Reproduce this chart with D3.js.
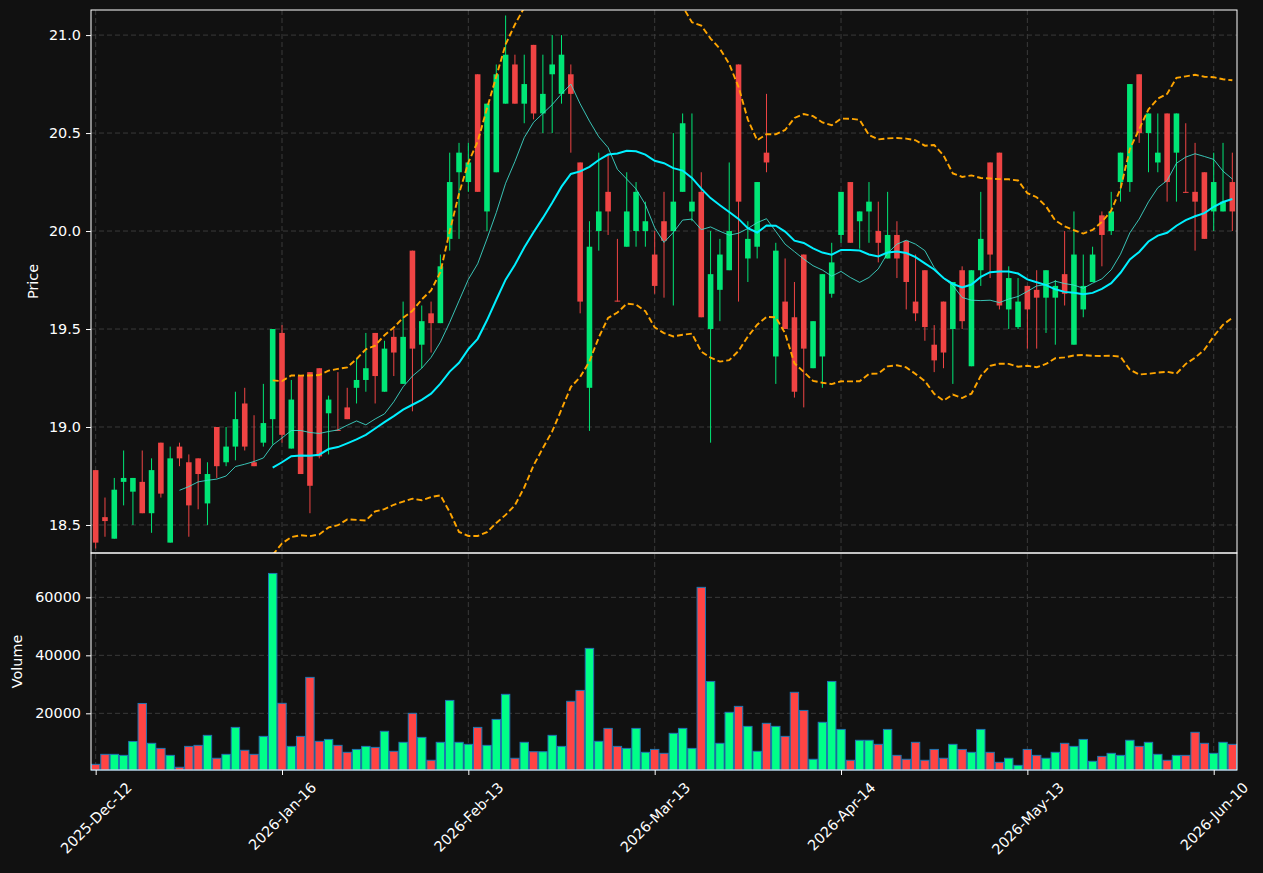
<!DOCTYPE html>
<html>
<head>
<meta charset="utf-8">
<script src="https://cdn.jsdelivr.net/npm/d3@7"></script>
<style>
body { margin: 0; background: #111111; }
svg { display: block; font-family: "DejaVu Sans", sans-serif; }
</style>
</head>
<body>
<script>
// daily bars
var opens = [18.78,18.54,18.43,18.72,18.67,18.72,18.56,18.92,18.41,18.90,
  18.82,18.84,18.61,19.00,18.82,18.90,19.12,18.82,18.92,19.04,
  19.48,18.89,19.26,19.28,19.30,19.07,18.985,19.10,19.20,19.24,
  19.48,19.18,19.46,19.22,19.90,19.42,19.58,19.53,19.96,20.30,
  20.25,20.80,20.10,20.30,20.65,20.85,20.65,20.95,20.60,20.80,
  20.70,20.80,20.35,19.20,20.00,20.20,19.645,19.92,20.00,20.00,
  19.88,20.05,20.00,20.20,20.10,20.20,19.50,19.70,19.80,20.85,
  19.86,19.92,20.40,19.36,19.64,19.56,19.88,19.30,19.36,19.68,
  19.98,20.25,20.05,20.10,20.00,19.86,19.98,19.95,19.64,19.80,
  19.42,19.64,19.50,19.80,19.31,19.80,20.35,20.40,19.60,19.51,
  19.72,19.70,19.66,19.66,19.78,19.42,19.60,19.74,20.08,20.00,
  20.25,20.25,20.80,20.50,20.35,20.60,20.40,20.20,20.20,20.30,
  20.10,20.10,20.25];
var highs = [18.78,18.64,18.74,18.88,18.74,18.88,18.84,18.92,18.90,18.92,
  18.86,18.84,18.82,19.00,19.00,19.18,19.20,19.06,19.22,19.50,
  19.52,19.24,19.26,19.28,19.30,19.16,19.28,19.20,19.35,19.48,
  19.48,19.44,19.50,19.64,19.90,19.62,19.64,19.88,20.40,20.45,
  20.45,20.80,20.65,20.85,21.10,20.90,20.90,20.95,20.90,21.00,
  21.00,20.85,20.35,20.05,20.40,20.39,19.96,20.30,20.25,20.15,
  20.00,20.20,20.50,20.60,20.60,20.30,20.00,19.96,20.35,20.85,
  20.05,20.25,20.70,19.94,19.86,19.74,19.88,19.54,19.78,19.94,
  20.20,20.25,20.10,20.25,20.15,20.20,20.05,19.95,19.88,19.80,
  19.52,19.64,19.74,19.82,19.80,20.20,20.35,20.40,19.82,19.76,
  19.72,19.80,19.80,19.75,20.00,20.10,19.88,19.92,20.10,20.20,
  20.40,20.75,20.80,20.60,20.60,20.60,20.60,20.55,20.45,20.30,
  20.40,20.45,20.40];
var lows = [18.38,18.44,18.43,18.60,18.50,18.56,18.46,18.64,18.41,18.80,
  18.44,18.58,18.50,18.74,18.80,18.83,18.88,18.80,18.90,18.91,
  18.92,18.89,18.76,18.56,18.84,18.86,18.98,19.04,19.12,19.18,
  19.12,19.18,19.26,19.22,19.08,19.30,19.38,19.53,19.90,19.96,
  20.20,20.20,20.00,20.30,20.65,20.65,20.55,20.57,20.50,20.50,
  20.65,20.40,19.58,18.98,19.90,19.98,19.64,19.92,19.92,19.92,
  19.68,19.66,19.62,20.20,20.05,19.56,18.92,19.54,19.80,19.64,
  19.74,19.86,20.30,19.22,19.50,19.15,19.10,19.30,19.20,19.66,
  19.94,19.94,19.91,19.94,19.84,19.86,19.76,19.60,19.54,19.44,
  19.28,19.30,19.22,19.50,19.31,19.72,19.76,19.60,19.50,19.50,
  19.40,19.40,19.48,19.42,19.62,19.42,19.56,19.74,19.82,19.98,
  20.15,20.20,20.45,20.30,20.30,20.15,20.15,20.195,19.90,19.96,
  20.00,20.10,20.00];
var closes = [18.41,18.52,18.68,18.74,18.74,18.56,18.78,18.66,18.84,18.84,
  18.60,18.76,18.76,18.80,18.90,19.04,18.90,18.80,19.02,19.50,
  18.96,19.14,18.76,18.70,18.85,19.14,18.98,19.04,19.24,19.30,
  19.26,19.40,19.38,19.46,19.40,19.54,19.53,19.82,20.25,20.40,
  20.35,20.20,20.65,20.80,20.90,20.65,20.75,20.60,20.70,20.85,
  20.90,20.70,19.64,19.92,20.10,20.10,19.64,20.10,20.20,20.05,
  19.72,19.95,20.15,20.55,20.15,19.56,19.78,19.88,20.00,20.15,
  19.96,20.25,20.35,19.90,19.50,19.18,19.40,19.54,19.78,19.84,
  20.20,19.94,20.10,20.15,19.94,19.98,19.86,19.74,19.58,19.51,
  19.34,19.38,19.74,19.54,19.80,19.96,19.88,19.62,19.76,19.64,
  19.60,19.66,19.80,19.72,19.68,19.88,19.72,19.88,19.98,20.10,
  20.40,20.75,20.50,20.60,20.40,20.25,20.60,20.195,20.15,19.96,
  20.25,20.15,20.10];
var volumes = [2400,5850,5850,5500,10300,23400,9650,7900,5500,1400,
  8600,8950,12400,4500,5850,15150,7250,5850,12050,68250,
  23450,8600,12050,32400,10350,11000,8950,6550,7550,8600,
  8250,13800,6900,10000,20000,11700,3800,10000,24450,10000,
  9300,15150,8950,17900,26550,4500,10000,6750,6750,12400,
  8600,24150,27900,42400,10350,14800,8600,7900,14800,6550,
  7550,6200,13100,14800,7900,63450,31000,9650,20350,22400,
  15500,6900,16550,15500,12050,27250,21000,4150,16900,31000,
  14450,3800,10700,10700,9300,14450,5500,4150,10000,3800,
  7550,4500,9300,7550,6550,14450,6550,3100,4500,2050,
  7550,5500,4500,6550,9650,8600,11000,3450,5150,6200,
  5500,10700,8600,10000,5850,3800,5500,5500,13450,9650,
  6200,10000,9300];

var tickIdx = [0, 20, 40, 60, 80, 100, 120];
var tickLabels = ['2025-Dec-12','2026-Jan-16','2026-Feb-13','2026-Mar-13','2026-Apr-14','2026-May-13','2026-Jun-10'];
var priceTicks = [18.5, 19.0, 19.5, 20.0, 20.5, 21.0];
var volTicks = [20000, 40000, 60000];

var w = 1263;
var h = 873;
var left = 91, right = 1237, pTop = 10, pBot = 553, vBot = 770;
var fs = '14.4px';

function sma(arr, n) {
    return arr.map(function(d, i) {
        if (i < n - 1) return null;
        return d3.mean(arr.slice(i - n + 1, i + 1));
    });
}
function band(arr, n, k) {
    return arr.map(function(d, i) {
        if (i < n - 1) return null;
        var s = arr.slice(i - n + 1, i + 1);
        var m = d3.mean(s);
        var sd = Math.sqrt(d3.mean(s, function(v) { return (v - m) * (v - m); }));
        return m + k * sd;
    });
}

var ma10 = sma(closes, 10);
var ma20 = sma(closes, 20);
var bbUp = band(closes, 20, 2);
var bbLo = band(closes, 20, -2);

var svg = d3.select('body')
            .append('svg')
            .attr('width', w)
            .attr('height', h);

svg.append('rect')
   .attr('width', w)
   .attr('height', h)
   .attr('fill', '#111111');

var x = d3.scaleLinear().domain([-0.5, closes.length - 0.5]).range([left, right]);
var y = d3.scaleLinear().domain([18.357, 21.128]).range([pBot, pTop]);
var yv = d3.scaleLinear().domain([450, 75300]).range([vBot, pBot]);

var up = '#00e676', down = '#ef4444';
var volUp = '#00ff88', volDown = '#ff4444';

// grid
var grid = svg.append('g')
    .attr('stroke', '#3a3a3a')
    .attr('stroke-dasharray', '5,3')
    .attr('stroke-width', 1);
tickIdx.forEach(function(t) {
    grid.append('line').attr('x1', x(t)).attr('x2', x(t)).attr('y1', pTop).attr('y2', vBot);
});
priceTicks.forEach(function(t) {
    grid.append('line').attr('x1', left).attr('x2', right).attr('y1', y(t)).attr('y2', y(t));
});
volTicks.forEach(function(t) {
    grid.append('line').attr('x1', left).attr('x2', right).attr('y1', yv(t)).attr('y2', yv(t));
});

svg.append('clipPath').attr('id', 'pclip')
   .append('rect').attr('x', left).attr('y', pTop).attr('width', right - left).attr('height', pBot - pTop);

var g = svg.append('g').attr('clip-path', 'url(#pclip)');

var bars = closes.map(function(c, i) {
    return {i: i, o: opens[i], h: highs[i], l: lows[i], c: c, v: volumes[i], up: c >= opens[i]};
});

// candles
g.selectAll('line.wick')
 .data(bars)
 .enter()
 .append('line')
 .attr('class', 'wick')
 .attr('x1', function(d) { return x(d.i); })
 .attr('x2', function(d) { return x(d.i); })
 .attr('y1', function(d) { return y(d.h); })
 .attr('y2', function(d) { return y(d.l); })
 .attr('stroke', function(d) { return d.up ? up : down; })
 .attr('stroke-width', 1);

var bw = (x(1) - x(0)) * 0.6;
g.selectAll('rect.body')
 .data(bars)
 .enter()
 .append('rect')
 .attr('class', 'body')
 .attr('x', function(d) { return x(d.i) - bw / 2; })
 .attr('y', function(d) { return y(Math.max(d.o, d.c)); })
 .attr('width', bw)
 .attr('height', function(d) { return Math.max(1, Math.abs(y(d.o) - y(d.c))); })
 .attr('fill', function(d) { return d.up ? up : down; });

// overlays
function lineOf(arr) {
    return d3.line()
        .defined(function(d) { return d != null; })
        .x(function(d, i) { return x(i); })
        .y(function(d) { return y(d); })(arr);
}
g.append('path').attr('d', lineOf(ma10)).attr('fill', 'none')
 .attr('stroke', '#40e0d0').attr('stroke-width', 1).attr('opacity', 0.85);
g.append('path').attr('d', lineOf(ma20)).attr('fill', 'none')
 .attr('stroke', '#00f0ff').attr('stroke-width', 2);
[bbUp, bbLo].forEach(function(b) {
    g.append('path').attr('d', lineOf(b)).attr('fill', 'none')
     .attr('stroke', '#ffa500').attr('stroke-width', 1.9)
     .attr('stroke-dasharray', '6,3');
});

// volume
var vw = (x(1) - x(0)) * 0.9;
svg.append('g').selectAll('rect')
   .data(bars)
   .enter()
   .append('rect')
   .attr('x', function(d) { return x(d.i) - vw / 2; })
   .attr('y', function(d) { return yv(d.v); })
   .attr('width', vw)
   .attr('height', function(d) { return vBot - yv(d.v); })
   .attr('fill', function(d) { return d.up ? volUp : volDown; })
   .attr('stroke', '#1f77b4')
   .attr('stroke-width', 1);

// axes
function styleAxis(sel) {
    sel.select('.domain').remove();
    sel.selectAll('line').attr('stroke', '#ffffff');
    sel.selectAll('text').attr('fill', '#ffffff').style('font-size', fs)
       .style('font-family', '"DejaVu Sans", sans-serif');
}

svg.append('g').attr('transform', 'translate(' + left + ',0)')
   .call(d3.axisLeft(y).tickValues(priceTicks).tickFormat(d3.format('.1f')).tickSize(5).tickPadding(5))
   .call(styleAxis);

svg.append('g').attr('transform', 'translate(' + left + ',0)')
   .call(d3.axisLeft(yv).tickValues(volTicks).tickFormat(d3.format('d')).tickSize(5).tickPadding(5))
   .call(styleAxis);

var xAxis = svg.append('g').attr('transform', 'translate(0,' + vBot + ')')
   .call(d3.axisBottom(x).tickValues(tickIdx)
        .tickFormat(function(d, i) { return tickLabels[i]; })
        .tickSize(5).tickPadding(5))
   .call(styleAxis);

xAxis.selectAll('text').each(function() {
    var len = this.getComputedTextLength();
    var half = (len + 14) * Math.SQRT1_2 / 2;
    d3.select(this)
      .attr('y', 0)
      .attr('dy', '0.35em')
      .attr('text-anchor', 'middle')
      .attr('transform', 'translate(0,' + (10 + half) + ') rotate(-45)');
});

// spines
svg.append('rect').attr('x', left).attr('y', pTop).attr('width', right - left).attr('height', pBot - pTop)
   .attr('fill', 'none').attr('stroke', '#ffffff').attr('stroke-width', 1);
svg.append('rect').attr('x', left).attr('y', pBot).attr('width', right - left).attr('height', vBot - pBot)
   .attr('fill', 'none').attr('stroke', '#ffffff').attr('stroke-width', 1);

// axis titles
svg.append('text')
   .attr('transform', 'translate(33,' + ((pTop + pBot) / 2) + ') rotate(-90)')
   .attr('text-anchor', 'middle')
   .attr('dy', '0.35em')
   .attr('fill', '#ffffff')
   .style('font-size', fs)
   .text('Price');
svg.append('text')
   .attr('transform', 'translate(17,' + ((pBot + vBot) / 2) + ') rotate(-90)')
   .attr('text-anchor', 'middle')
   .attr('dy', '0.35em')
   .attr('fill', '#ffffff')
   .style('font-size', fs)
   .text('Volume');
</script>
</body>
</html>
